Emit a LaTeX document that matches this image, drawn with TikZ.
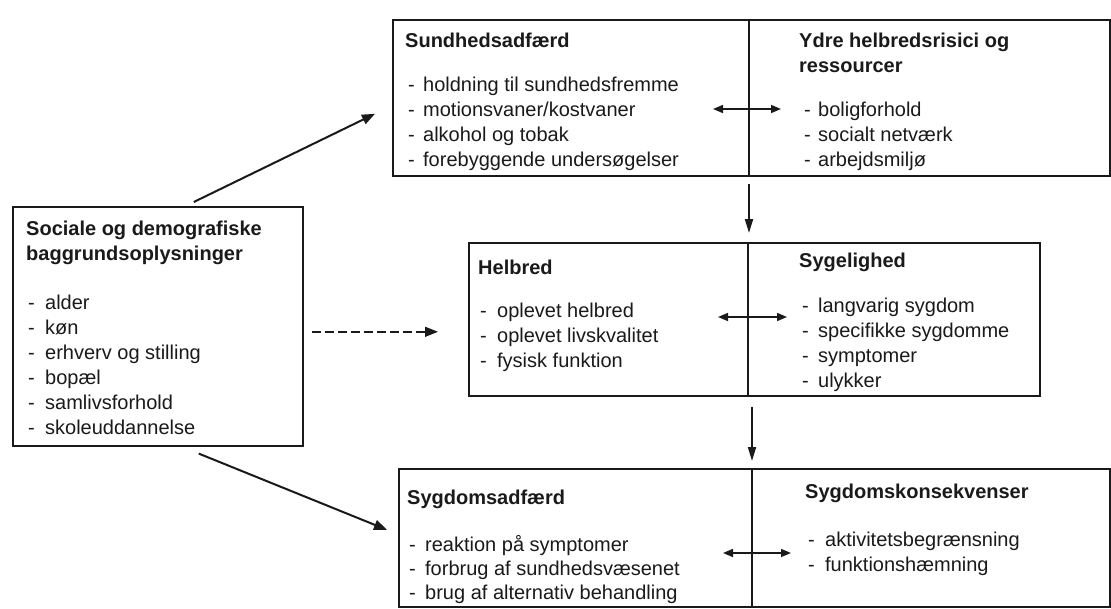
\documentclass[tikz,border=0pt]{standalone}
\usepackage{fontspec}
\setmainfont{Liberation Sans}
\usetikzlibrary{arrows.meta}
\definecolor{ink}{HTML}{1A1A1A}
\newcommand\dashitem[2][16pt]{\makebox[#1][l]{-}#2}
\tikzset{
  box/.style={draw=ink, line width=1.6pt, inner sep=0pt, anchor=north west},
  divline/.style={draw=ink, line width=1.1pt},
  hd/.style={anchor=base west, inner sep=0pt, text=ink, font=\fontsize{20}{25}\bfseries},
  itm/.style={anchor=base west, inner sep=0pt, text=ink, font=\fontsize{20}{25}\selectfont},
  arr/.style={draw=ink, line width=2pt, -{Triangle[length=13pt,width=10pt]}},
  dasharr/.style={draw=ink, line width=1.4pt, dash pattern=on 9pt off 4pt, -{Triangle[length=13pt,width=10pt]}},
  darr/.style={draw=ink, line width=1.6pt, {Triangle[length=10pt,width=8pt]}-{Triangle[length=10pt,width=8pt]}},
  varr/.style={draw=ink, line width=2pt, -{Triangle[length=14pt,width=8pt]}}
}
\begin{document}
\begin{tikzpicture}[x=1pt,y=-1pt]
\useasboundingbox[fill=white] (0,0) rectangle (1111,608);

% boxes
\node[box, minimum width=290pt, minimum height=239pt] (L) at (12,206) {};
\node[box, minimum width=717pt, minimum height=156pt] (T) at (392,19) {};
\node[box, minimum width=571pt, minimum height=153pt] (M) at (468,242) {};
\node[box, minimum width=711pt, minimum height=138pt] (B) at (398,468) {};

% dividers
\coordinate (Td) at (749,109);
\coordinate (Md) at (748,317);
\coordinate (Bd) at (752,553);
\draw[divline] (T.north -| Td) -- (T.south -| Td);
\draw[divline] (M.north -| Md) -- (M.south -| Md);
\draw[divline] (B.north -| Bd) -- (B.south -| Bd);

% left box text
\node[hd] (Lh1) at (26,235) {Sociale og demografiske};
\node[hd] (Lh2) at (26,260) {baggrundsoplysninger};
\foreach \t [count=\i] in {alder,køn,erhverv og stilling,bopæl,samlivsforhold,skoleuddannelse}
  \node[itm] (Li\i) at (28,{309+25*(\i-1)}) {\dashitem[17pt]{\t}};

% top box text
\node[hd] (Th) at (405,47) {Sundhedsadfærd};
\foreach \t [count=\i] in {holdning til sundhedsfremme,motionsvaner/kostvaner,alkohol og tobak,forebyggende undersøgelser}
  \node[itm] (Ti\i) at (408,{91+25*(\i-1)}) {\dashitem[15pt]{\t}};
\node[hd] (Rh1) at (799,47) {Ydre helbredsrisici og};
\node[hd] (Rh2) at (799,72) {ressourcer};
\foreach \t [count=\i] in {boligforhold,socialt netværk,arbejdsmiljø}
  \node[itm] (Ri\i) at (804,{116+25*(\i-1)}) {\dashitem[14pt]{\t}};

% middle box text
\node[hd] (Mh) at (478,274) {Helbred};
\foreach \t [count=\i] in {oplevet helbred,oplevet livskvalitet,fysisk funktion}
  \node[itm] (Mi\i) at (480,{317+25*(\i-1)}) {\dashitem[17pt]{\t}};
\node[hd] (Sh) at (799,267) {Sygelighed};
\foreach \t [count=\i] in {langvarig sygdom,specifikke sygdomme,symptomer,ulykker}
  \node[itm] (Si\i) at (802,{312+25*(\i-1)}) {\dashitem[16pt]{\t}};

% bottom box text
\node[hd] (Bh) at (407,504) {Sygdomsadfærd};
\foreach \t [count=\i] in {reaktion på symptomer,forbrug af sundhedsvæsenet,brug af alternativ behandling}
  \node[itm] (Bi\i) at (409,{551+24*(\i-1)}) {\dashitem[16pt]{\t}};
\node[hd] (Kh) at (805,498) {Sygdomskonsekvenser};
\foreach \t [count=\i] in {aktivitetsbegrænsning,funktionshæmning}
  \node[itm] (Ki\i) at (808,{546+25*(\i-1)}) {\dashitem[17pt]{\t}};

% connectors
\draw[arr] ([xshift=36pt,yshift=4pt]L.north) -- ([xshift=-17pt,yshift=-16pt]T.west);
\draw[arr] ([xshift=41pt,yshift=-7pt]L.south) -- ([xshift=-11pt,yshift=8pt]B.west);
\draw[dasharr] ([xshift=8pt,yshift=-5.5pt]L.east) -- ([xshift=-30pt,yshift=-12.5pt]M.west);
\draw[varr] ([yshift=-7pt]T.south -| Td) -- ([yshift=9pt]Td |- M.north);
\draw[varr] ([yshift=-10pt]M.south -| Bd) -- ([yshift=7pt]Bd |- B.north);
\draw[darr] ([xshift=-36pt]Td) -- ([xshift=32pt]Td);
\draw[darr] ([xshift=-30pt]Md) -- ([xshift=39pt]Md);
\draw[darr] ([xshift=-29pt]Bd) -- ([xshift=39pt]Bd);
\end{tikzpicture}
\end{document}
